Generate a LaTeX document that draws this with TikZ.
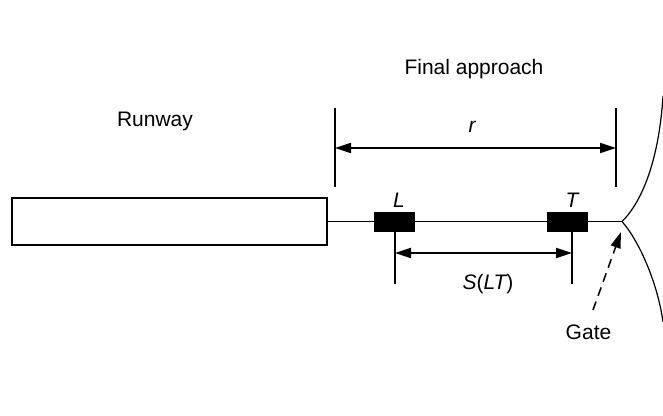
\documentclass[tikz,border=0pt]{standalone}
\usepackage{fontspec}
\setmainfont{Liberation Sans}
\usetikzlibrary{arrows.meta}
\begin{document}
\begin{tikzpicture}[x=1pt,y=-1pt,
  lbl/.style={font=\fontsize{21}{25}\selectfont, inner sep=0pt},
  ilbl/.style={font=\fontsize{21}{25}\selectfont\itshape, inner sep=0pt},
  blk/.style={draw=black, fill=black, minimum width=40pt, minimum height=19pt, inner sep=0pt},
  ext/.style={line width=1.3pt},
  dim/.style={line width=1.8pt, {Triangle[length=16pt,width=10pt]}-{Triangle[length=16pt,width=10pt]}},
  curve/.style={line width=1.2pt}
]
\useasboundingbox (0,0) rectangle (663,415);
% runway
\node[draw=black, line width=2pt, minimum width=315pt, minimum height=47pt, inner sep=0pt] (runway) at (169.5,221.5) {};
\coordinate (gate) at (622,221.5);
\draw[line width=1.2pt] (runway.east) -- (gate);
\node[blk] (Lbox) at (394,221.5) {};
\node[blk] (Tbox) at (567.5,221.5) {};
% gate curves
\coordinate (top) at (663,96);
\coordinate (bot) at (663,322);
\draw[curve] (gate) .. controls (642,202) and (659,160) .. (top);
\draw[curve] (gate) .. controls (640,242) and (658,285) .. (bot);
% labels
\node[lbl] (final) at (474,69) {Final approach};
\node[lbl] (rw) at (155,121) {Runway};
\node[ilbl] (r) at (472,127) {r};
\node[ilbl] (L) at (399,200) {L};
\node[ilbl] (T) at (572,200) {T};
\node[lbl] (S) at (488,284) {\itshape S\upshape(\itshape LT\upshape)};
\node[lbl] (gt) at (588.5,332) {Gate};
% r dimension
\coordinate (r1t) at (335,108); \coordinate (r1b) at (335,187);
\coordinate (r2t) at (616,108); \coordinate (r2b) at (616,187);
\draw[ext] (r1t) -- (r1b);
\draw[ext] (r2t) -- (r2b);
\coordinate (ra) at (335,148); \coordinate (rb) at (616,148);
\draw[dim] (ra) -- (rb);
% S(LT) dimension
\coordinate (sLb) at (395,284); \coordinate (sTb) at (572,284);
\draw[ext] (Lbox.south -| sLb) -- (sLb);
\draw[ext] (Tbox.south -| sTb) -- (sTb);
\coordinate (sa) at (395,253); \coordinate (sb) at (572,253);
\draw[dim] (sa) -- (sb);
% gate arrow
\coordinate (gtail) at (593,310);
\coordinate (gtip) at (621,232);
\draw[line width=1.5pt, dash pattern=on 9pt off 6pt, -{Triangle[length=16pt,width=10pt]}] (gtail) -- (gtip);
\end{tikzpicture}
\end{document}
